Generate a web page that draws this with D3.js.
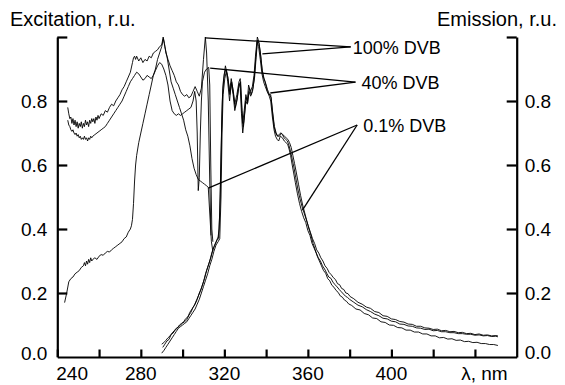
<!DOCTYPE html>
<html>
<head>
<meta charset="utf-8">
<script src="https://d3js.org/d3.v7.min.js"></script>
<style>
  body { margin: 0; background: #fff; }
  svg { display: block; font-family: "Liberation Sans", Arial, sans-serif; }
</style>
</head>
<body>
<div id="chart"></div>
<script>
// wavelength (nm), relative intensity
const exc100 = [[245,0.78],[245.5,0.76],[246,0.745],[246.5,0.75],[247,0.73],[247.5,0.745],[248,0.725],[248.5,0.74],[249,0.72],[249.5,0.735],[250,0.715],[250.5,0.73],[251,0.72],[251.5,0.735],[252,0.715],[252.5,0.73],[253,0.72],[253.5,0.74],[254,0.725],[254.5,0.735],[255,0.72],[255.5,0.74],[256,0.73],[256.5,0.745],[257,0.735],[257.5,0.745],[258,0.73],[258.5,0.75],[259,0.74],[259.5,0.755],[260,0.745],[261,0.76],[262,0.755],[263,0.77],[264,0.765],[265,0.78],[266,0.79],[267,0.785],[268,0.8],[269,0.81],[270,0.82],[271,0.835],[272,0.845],[273,0.86],[274,0.875],[275,0.89],[276,0.92],[276.5,0.935],[277,0.94],[277.5,0.93],[278,0.94],[279,0.925],[280,0.935],[281,0.92],[282,0.93],[283,0.925],[284,0.94],[285,0.935],[286,0.95],[287,0.955],[288,0.96],[289,0.97],[290,0.975],[290.7,1.0],[291.3,0.98],[292,0.95],[293,0.93],[294,0.91],[295,0.895],[296,0.88],[297,0.86],[298,0.85],[299,0.83],[300,0.82],[301,0.815],[302,0.82],[303,0.81],[304,0.815],[305,0.83],[306,0.845],[307,0.83],[308,0.815],[309,0.84],[310,0.93],[310.9,1.0],[311.5,0.95],[312.3,0.8],[313,0.55],[313.6,0.38]];

const exc40 = [[245,0.74],[245.5,0.725],[246,0.72],[246.5,0.71],[247,0.705],[247.5,0.71],[248,0.7],[248.5,0.695],[249,0.7],[249.5,0.69],[250,0.695],[250.5,0.685],[251,0.69],[251.5,0.68],[252,0.685],[252.5,0.68],[253,0.69],[253.5,0.68],[254,0.685],[254.5,0.675],[255,0.685],[255.5,0.68],[256,0.69],[256.5,0.685],[257,0.69],[258,0.695],[259,0.7],[260,0.705],[261,0.71],[262,0.715],[263,0.72],[264,0.73],[265,0.74],[266,0.75],[267,0.76],[268,0.77],[269,0.78],[270,0.79],[271,0.8],[272,0.815],[273,0.83],[274,0.845],[275,0.86],[276,0.87],[277,0.88],[278,0.89],[279,0.885],[280,0.875],[281,0.865],[282,0.87],[283,0.88],[284,0.875],[285,0.87],[286,0.88],[287,0.895],[288,0.91],[289,0.92],[290,0.915],[291,0.9],[292,0.88],[293,0.85],[294,0.8],[295,0.77],[296,0.76],[297,0.755],[298,0.76],[299,0.755],[300,0.76],[301,0.765],[302,0.77],[303,0.775],[304,0.78],[305,0.8],[305.8,0.83],[306.5,0.8],[307,0.7],[307.5,0.52],[308,0.56],[308.5,0.7],[309,0.8],[309.5,0.86],[310.5,0.89],[311.5,0.9],[312.5,0.905],[313,0.85],[313.5,0.6],[314,0.4],[314.5,0.36]];

const exc01 = [[243.5,0.17],[244.5,0.2],[245.5,0.235],[246.5,0.245],[247.5,0.25],[248.5,0.26],[249.5,0.265],[250.5,0.27],[251.5,0.28],[252.5,0.285],[253,0.295],[253.5,0.285],[254,0.3],[254.5,0.29],[255,0.305],[255.5,0.295],[256,0.31],[256.5,0.3],[257,0.305],[258,0.31],[259,0.305],[260,0.315],[261,0.32],[262,0.318],[263,0.325],[264,0.33],[265,0.328],[266,0.335],[267,0.34],[268,0.345],[269,0.35],[270,0.355],[271,0.36],[272,0.37],[273,0.375],[274,0.39],[275,0.4],[275.5,0.41],[276,0.43],[276.5,0.48],[277,0.55],[277.5,0.6],[278,0.63],[279,0.67],[280,0.7],[281,0.73],[282,0.76],[283,0.79],[284,0.82],[285,0.85],[286,0.88],[287,0.9],[288,0.93],[289,0.95],[290,0.97],[290.8,0.995],[291.5,0.97],[292.5,0.94],[293.5,0.9],[294.5,0.86],[295.5,0.84],[296.5,0.82],[297.5,0.8],[298.5,0.78],[299.5,0.76],[300.5,0.74],[301.5,0.71],[302.5,0.69],[303.5,0.66],[304.5,0.62],[305.5,0.59],[306.5,0.57],[307.5,0.555],[308.5,0.55],[309.5,0.545],[310.5,0.54],[311.5,0.535],[312.3,0.53],[313,0.45],[313.8,0.36],[314.5,0.33]];

const em100 = [[290,0.04],[291,0.045],[292,0.052],[293,0.06],[294,0.066],[295,0.075],[296,0.082],[297,0.09],[298,0.094],[299,0.1],[300,0.106],[301,0.11],[302,0.117],[303,0.13],[304,0.14],[305,0.155],[306,0.165],[307,0.18],[308,0.2],[309,0.215],[310,0.235],[311,0.26],[312,0.28],[313,0.3],[314,0.325],[315,0.345],[316,0.36],[317,0.375],[317.5,0.4],[318,0.5],[318.5,0.65],[319,0.8],[319.5,0.86],[320.5,0.91],[321.5,0.88],[322.5,0.83],[323.3,0.87],[324,0.84],[325,0.79],[326,0.82],[327,0.86],[327.6,0.87],[328.3,0.78],[328.8,0.73],[329.5,0.77],[330.3,0.82],[331,0.8],[331.6,0.85],[332.5,0.83],[333.4,0.845],[334.2,0.88],[334.9,0.94],[335.8,1.0],[336.5,0.985],[337.3,0.95],[338,0.9],[338.7,0.875],[339.5,0.86],[340.6,0.83],[341.5,0.815],[342.2,0.8],[343,0.75],[343.8,0.71],[344.5,0.69],[345.3,0.68],[346,0.675],[346.8,0.69],[347.8,0.685],[348.7,0.675],[349.5,0.67],[350.3,0.665],[351,0.65],[351.7,0.63],[352.5,0.6],[353.2,0.575],[354,0.545],[355,0.51],[356,0.48],[357,0.455],[358,0.435],[359,0.42],[360,0.395],[361,0.38],[362,0.355],[363,0.34],[364,0.325],[365,0.31],[366,0.3],[367,0.285],[368,0.275],[369,0.262],[370,0.25],[371,0.246],[372,0.234],[373,0.226],[374,0.219],[375,0.211],[376,0.204],[377,0.197],[378,0.19],[379,0.186],[380,0.18],[382,0.171],[384,0.162],[386,0.157],[388,0.148],[390,0.142],[392,0.134],[394,0.129],[396,0.121],[398,0.119],[400,0.112],[402,0.11],[404,0.103],[406,0.102],[408,0.097],[410,0.096],[412,0.091],[414,0.09],[416,0.086],[418,0.087],[420,0.082],[422,0.083],[424,0.079],[426,0.079],[428,0.076],[430,0.076],[432,0.073],[434,0.073],[436,0.071],[438,0.071],[440,0.068],[442,0.069],[444,0.066],[446,0.067],[448,0.064],[450,0.065],[451,0.063]];

const em40 = [[290.5,0.03],[291.5,0.04],[292.5,0.05],[293.5,0.055],[294.5,0.07],[295.5,0.075],[296.5,0.085],[297.5,0.09],[298.5,0.1],[299.5,0.105],[300.5,0.11],[301.5,0.12],[302.5,0.125],[303.5,0.14],[304.5,0.15],[305.5,0.16],[306.5,0.175],[307.5,0.19],[308.5,0.205],[309.5,0.225],[310.5,0.245],[311.5,0.27],[312.5,0.29],[313.5,0.31],[314.5,0.335],[315.5,0.35],[316.5,0.365],[317.2,0.37],[317.8,0.45],[318.3,0.6],[318.8,0.75],[319.3,0.84],[320,0.885],[320.8,0.9],[321.6,0.86],[322.5,0.8],[323.3,0.855],[324.2,0.82],[325,0.77],[326,0.8],[326.8,0.84],[327.5,0.855],[328.2,0.76],[328.8,0.7],[329.5,0.74],[330.2,0.8],[331,0.79],[331.8,0.83],[332.6,0.815],[333.5,0.83],[334.3,0.87],[335,0.93],[335.7,0.985],[336.4,0.97],[337.2,0.93],[338,0.885],[338.8,0.86],[339.6,0.845],[340.5,0.83],[341.3,0.82],[342.2,0.82],[343,0.77],[343.8,0.72],[344.6,0.7],[345.4,0.69],[346.2,0.695],[347,0.7],[347.8,0.695],[348.6,0.685],[349.4,0.68],[350.2,0.675],[351,0.66],[351.8,0.64],[352.6,0.615],[353.4,0.59],[354.2,0.56],[355.2,0.525],[356.2,0.495],[357.2,0.47],[358.2,0.45],[359.2,0.43],[360.2,0.41],[361.2,0.39],[362.2,0.37],[363.2,0.355],[364.2,0.335],[365.2,0.325],[366.2,0.31],[367.2,0.3],[368.2,0.285],[369.2,0.277],[370.2,0.264],[371.2,0.257],[372.2,0.248],[373.2,0.242],[374.2,0.229],[375.2,0.226],[376.2,0.214],[377.2,0.211],[378.2,0.2],[379.2,0.198],[380.2,0.189],[382,0.182],[384,0.171],[386,0.165],[388,0.156],[390,0.152],[392,0.142],[394,0.139],[396,0.129],[398,0.127],[400,0.119],[402,0.117],[404,0.111],[406,0.109],[408,0.103],[410,0.102],[412,0.096],[414,0.096],[416,0.091],[418,0.09],[420,0.086],[422,0.087],[424,0.082],[426,0.083],[428,0.079],[430,0.08],[432,0.076],[434,0.077],[436,0.073],[438,0.074],[440,0.07],[442,0.072],[444,0.068],[446,0.069],[448,0.066],[450,0.067],[451,0.066]];

const em01 = [[290,0.012],[291,0.02],[292,0.03],[293,0.04],[294,0.05],[295,0.06],[296,0.07],[297,0.08],[298,0.09],[299,0.095],[300,0.1],[301,0.105],[302,0.11],[303,0.12],[304,0.13],[305,0.14],[306,0.15],[307,0.165],[308,0.18],[309,0.2],[310,0.22],[311,0.24],[312,0.26],[313,0.285],[314,0.305],[315,0.33],[316,0.35],[317,0.36],[317.8,0.37],[318.4,0.5],[318.9,0.7],[319.4,0.82],[320.2,0.87],[321,0.895],[321.8,0.87],[322.6,0.82],[323.5,0.86],[324.3,0.83],[325.2,0.78],[326.2,0.81],[327,0.85],[327.8,0.86],[328.5,0.77],[329,0.72],[329.7,0.76],[330.5,0.81],[331.2,0.795],[332,0.84],[332.8,0.82],[333.7,0.84],[334.5,0.875],[335.2,0.935],[335.9,0.99],[336.6,0.98],[337.4,0.94],[338.2,0.895],[339,0.87],[339.8,0.855],[340.7,0.835],[341.6,0.82],[342.4,0.81],[343.2,0.76],[344,0.72],[344.8,0.7],[345.6,0.69],[346.4,0.69],[347.2,0.7],[348,0.695],[348.8,0.69],[349.6,0.685],[350.4,0.68],[351.2,0.67],[352,0.655],[352.8,0.63],[353.6,0.605],[354.5,0.575],[355.5,0.54],[356.5,0.505],[357.5,0.475],[358.5,0.45],[359.5,0.425],[360.5,0.4],[361.5,0.38],[362.5,0.355],[363.5,0.335],[364.5,0.315],[365.5,0.3],[366.5,0.285],[367.5,0.27],[368.5,0.262],[369.5,0.245],[370.5,0.238],[371.5,0.224],[372.5,0.218],[373.5,0.208],[374.5,0.202],[375.5,0.191],[376.5,0.187],[377.5,0.178],[378.5,0.174],[379.5,0.166],[381,0.161],[383,0.15],[385,0.147],[387,0.136],[389,0.132],[391,0.122],[393,0.12],[395,0.11],[397,0.108],[399,0.1],[401,0.099],[403,0.092],[405,0.091],[407,0.084],[409,0.084],[411,0.078],[413,0.078],[415,0.072],[417,0.072],[419,0.066],[421,0.066],[423,0.06],[425,0.061],[427,0.056],[429,0.057],[431,0.052],[433,0.053],[435,0.048],[437,0.049],[439,0.045],[441,0.046],[443,0.042],[445,0.042],[447,0.039],[449,0.039],[451,0.036]];

const curves = [exc100, exc40, exc01, em100, em40, em01];

const xTicks = [240, 260, 280, 300, 320, 340, 360, 380, 400, 420, 440];
const xLabels = [240, 280, 320, 360, 400];
const yTicks = [0.2, 0.4, 0.6, 0.8, 1.0];
const yLabels = [0.0, 0.2, 0.4, 0.6, 0.8];

// label text, where the leaders meet, and where they point
const notes = ["100% DVB", "40% DVB", "0.1% DVB"];
const noteHubs = [[380.5, 0.969], [382.8, 0.859], [383.6, 0.725]];
const noteTargets = [
  [[310.9, 0.997], [338.2, 0.947]],
  [[313.2, 0.903], [342.0, 0.825]],
  [[312.3, 0.528], [357.4, 0.459]]
];

const W = 565, H = 385;
const margin = { top: 37, right: 48.3, bottom: 28, left: 57.3 };

const svg = d3.select("#chart").append("svg")
  .attr("width", W)
  .attr("height", H);

const x = d3.scaleLinear().domain([240, 460]).range([margin.left, W - margin.right]);
const y = d3.scaleLinear().domain([0, 1]).range([H - margin.bottom, margin.top]);

const line = d3.line()
  .x(d => x(d[0]))
  .y(d => y(d[1]));

// spectra
svg.append("g")
  .selectAll("path")
  .data(curves)
  .enter()
  .append("path")
  .attr("d", line)
  .attr("fill", "none")
  .attr("stroke", "#000")
  .attr("stroke-width", 0.9)
  .attr("stroke-linejoin", "round");

// axes, ticks inward
const axisStyle = g => {
  g.selectAll(".domain").attr("stroke-width", 2.2);
  g.selectAll(".tick line").attr("stroke-width", 2.2);
  g.selectAll(".tick text").remove();
};

svg.append("g")
  .attr("transform", `translate(0,${y(0)})`)
  .call(d3.axisBottom(x).tickValues(xTicks).tickSizeInner(-7.5).tickSizeOuter(0))
  .call(axisStyle);

svg.append("g")
  .attr("transform", `translate(${x(240)},0)`)
  .call(d3.axisLeft(y).tickValues(yTicks).tickSizeInner(-10).tickSizeOuter(0))
  .call(axisStyle);

svg.append("g")
  .attr("transform", `translate(${x(460)},0)`)
  .call(d3.axisRight(y).tickValues(yTicks).tickSizeInner(-10).tickSizeOuter(0))
  .call(axisStyle);

// tick labels
svg.append("g")
  .selectAll("text")
  .data(xLabels)
  .enter()
  .append("text")
  .attr("x", d => d === 240 ? x(d) - 1 : x(d))
  .attr("y", H - 5)
  .attr("text-anchor", d => d === 240 ? "start" : "middle")
  .attr("font-size", "19px")
  .text(d => d);

svg.append("text")
  .attr("x", x(460) - 9)
  .attr("y", H - 5)
  .attr("text-anchor", "end")
  .attr("font-size", "19px")
  .text("λ, nm");

svg.append("g")
  .selectAll("text")
  .data(yLabels)
  .enter()
  .append("text")
  .attr("x", x(240) - 10)
  .attr("y", d => y(d) - (d === 0 ? 4 : 0))
  .attr("dy", "0.35em")
  .attr("text-anchor", "end")
  .attr("font-size", "19px")
  .text(d => d.toFixed(1));

svg.append("g")
  .selectAll("text")
  .data(yLabels)
  .enter()
  .append("text")
  .attr("x", x(460) + 8)
  .attr("y", d => y(d) - (d === 0 ? 5 : 0))
  .attr("dy", "0.35em")
  .attr("text-anchor", "start")
  .attr("font-size", "19px")
  .text(d => d.toFixed(1));

// axis titles
svg.append("text")
  .attr("x", 10)
  .attr("y", 26)
  .attr("font-size", "20px")
  .text("Excitation, r.u.");

svg.append("text")
  .attr("x", W - 8)
  .attr("y", 26)
  .attr("text-anchor", "end")
  .attr("font-size", "20px")
  .text("Emission, r.u.");

// annotation leaders
notes.forEach((label, i) => {
  const hub = noteHubs[i];
  noteTargets[i].forEach(t => {
    svg.append("line")
      .attr("x1", x(hub[0]))
      .attr("y1", y(hub[1]))
      .attr("x2", x(t[0]))
      .attr("y2", y(t[1]))
      .attr("stroke", "#000")
      .attr("stroke-width", 1.3);
  });
  svg.append("text")
    .attr("x", x(hub[0]) + (i === 0 ? 2 : 6))
    .attr("y", y(hub[1]) + 7)
    .attr("font-size", "18px")
    .text(label);
});
</script>
</body>
</html>
